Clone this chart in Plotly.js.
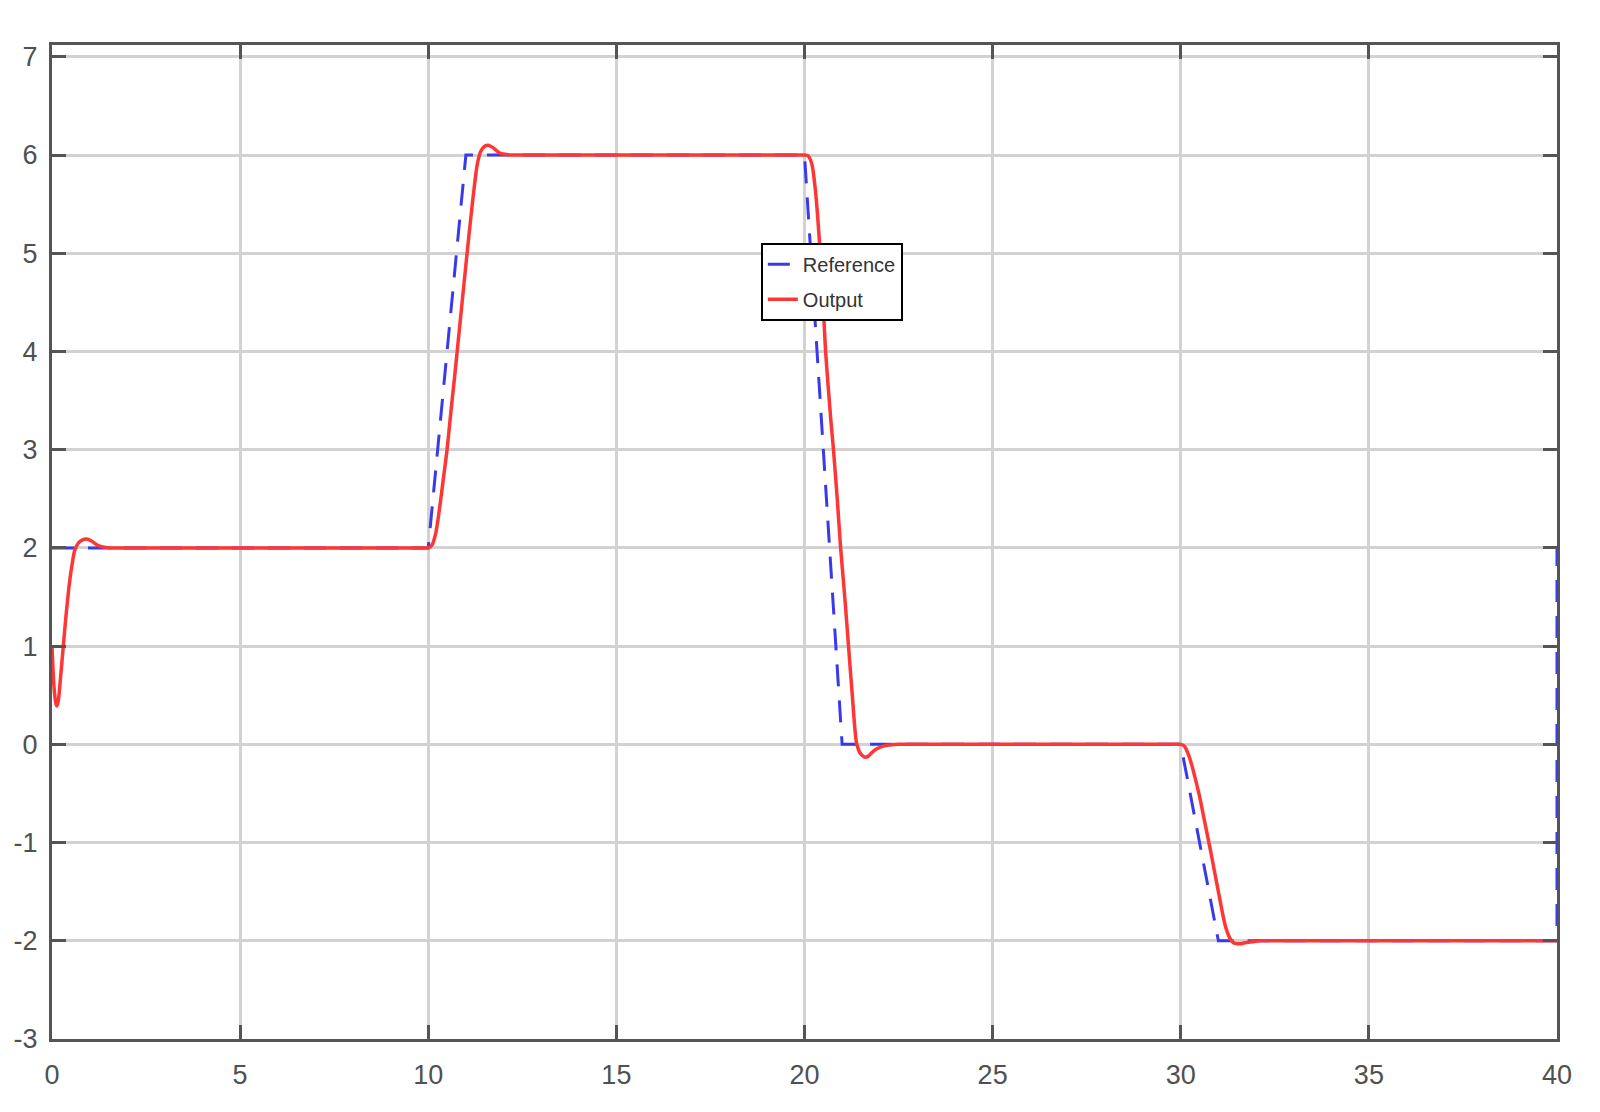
<!DOCTYPE html>
<html>
<head>
<meta charset="utf-8">
<script src="https://cdn.plot.ly/plotly-3.0.1.min.js"></script>
<style>
  html, body { margin: 0; padding: 0; background: #fff; }
  #plot { width: 1600px; height: 1112px; }
</style>
</head>
<body>
<div id="plot"></div>
<script>
// reference signal (piecewise ramps)
var refTime  = [0, 10, 11, 20, 21, 30, 31, 40, 40];
var refValue = [2, 2, 6, 6, 0, 0, -2, -2, 2];

// system output
var outTime = [
  0, 0.05, 0.1, 0.13, 0.17, 0.22, 0.3, 0.37, 0.45, 0.52, 0.6, 0.7, 0.8, 0.92, 1.05, 1.2, 1.35, 1.55, 1.8, 9.8,
  10, 10.1, 10.2, 10.3, 10.4, 10.5, 10.6, 10.7, 10.8, 10.9, 11.0, 11.1, 11.2, 11.3, 11.4, 11.5, 11.6, 11.7, 11.8, 11.9, 12.0, 12.2, 12.5, 19.8,
  20, 20.1, 20.2, 20.3, 20.4, 20.5, 20.56, 20.7, 20.77, 20.87, 20.96, 21.07, 21.17, 21.27, 21.38, 21.48, 21.6, 21.7, 21.8, 21.9, 22.0, 22.2, 22.5, 22.8, 29.8,
  30, 30.1, 30.2, 30.3, 30.4, 30.5, 30.6, 30.7, 30.8, 30.9, 31.0, 31.1, 31.2, 31.3, 31.4, 31.5, 31.6, 31.7, 31.9, 32.1, 32.4,
  40
];
var outValue = [
  1.0, 0.6, 0.42, 0.39, 0.45, 0.65, 1.0, 1.3, 1.6, 1.8, 1.97, 2.05, 2.08, 2.09, 2.07, 2.03, 2.01, 2.0, 2.0, 2.0,
  2.0, 2.03, 2.15, 2.4, 2.7, 3.0, 3.38, 3.74, 4.12, 4.5, 4.88, 5.25, 5.6, 5.9, 6.04, 6.09, 6.1, 6.08, 6.05, 6.02, 6.01, 6.0, 6.0, 6.0,
  6.0, 5.99, 5.9, 5.6, 5.1, 4.45, 4.0, 3.3, 3.0, 2.5, 2.0, 1.5, 1.0, 0.5, 0.02, -0.09, -0.13, -0.12, -0.08, -0.05, -0.03, -0.01, 0.0, 0.0, 0.0,
  0.0, -0.02, -0.1, -0.22, -0.37, -0.53, -0.72, -0.91, -1.1, -1.3, -1.5, -1.7, -1.87, -1.97, -2.02, -2.03, -2.03, -2.02, -2.01, -2.0, -2.0,
  -2.0
];

var xTicks = [0, 5, 10, 15, 20, 25, 30, 35, 40];
var xTickLabels = ['0', '5', '10', '15', '20', '25', '30', '35', '40'];
var yTicks = [-3, -2, -1, 0, 1, 2, 3, 4, 5, 6, 7];
var yTickLabels = ['-3', '-2', '-1', '0', '1', '2', '3', '4', '5', '6', '7'];

var fontFamily = "'Liberation Sans Narrow', 'Arial Narrow', 'Liberation Sans', Arial, sans-serif";
var tickFont = { family: fontFamily, size: 27, color: '#505050' };

var traces = [
  {
    x: refTime, y: refValue,
    name: 'Reference', type: 'scatter', mode: 'lines',
    legendgroup: 'a',
    line: { color: '#3a3aeb', width: 3, dash: '22px,14px' }
  },
  {
    x: outTime, y: outValue,
    name: 'Output', type: 'scatter', mode: 'lines',
    legendgroup: 'b',
    line: { color: '#ff3636', width: 3.5, shape: 'spline', smoothing: 0.6 }
  }
];

var axisCommon = {
  showline: true, linecolor: '#555555', linewidth: 3, mirror: 'ticks',
  ticks: 'inside', ticklen: 14, tickwidth: 3, tickcolor: '#555555',
  showgrid: true, gridcolor: '#d2d2d2', gridwidth: 3,
  zeroline: false, tickfont: tickFont
};

var layout = {
  width: 1600, height: 1112,
  margin: { l: 52, r: 43, t: 45, b: 73 },
  paper_bgcolor: '#ffffff', plot_bgcolor: '#ffffff',
  showlegend: true,
  legend: {
    x: 0.471, y: 0.801, xanchor: 'left', yanchor: 'top',
    bgcolor: '#ffffff', bordercolor: '#000000', borderwidth: 2,
    traceorder: 'grouped', tracegroupgap: 6,
    font: { family: fontFamily, size: 20, color: '#333333' }
  },
  xaxis: Object.assign({}, axisCommon, {
    range: [0, 40], tickvals: xTicks, ticktext: xTickLabels, ticklabelstandoff: 10
  }),
  yaxis: Object.assign({}, axisCommon, {
    range: [-3, 7.12], tickvals: yTicks, ticktext: yTickLabels, ticklabelstandoff: 6
  })
};

Plotly.newPlot('plot', traces, layout, { displayModeBar: false, staticPlot: true });
</script>
</body>
</html>
